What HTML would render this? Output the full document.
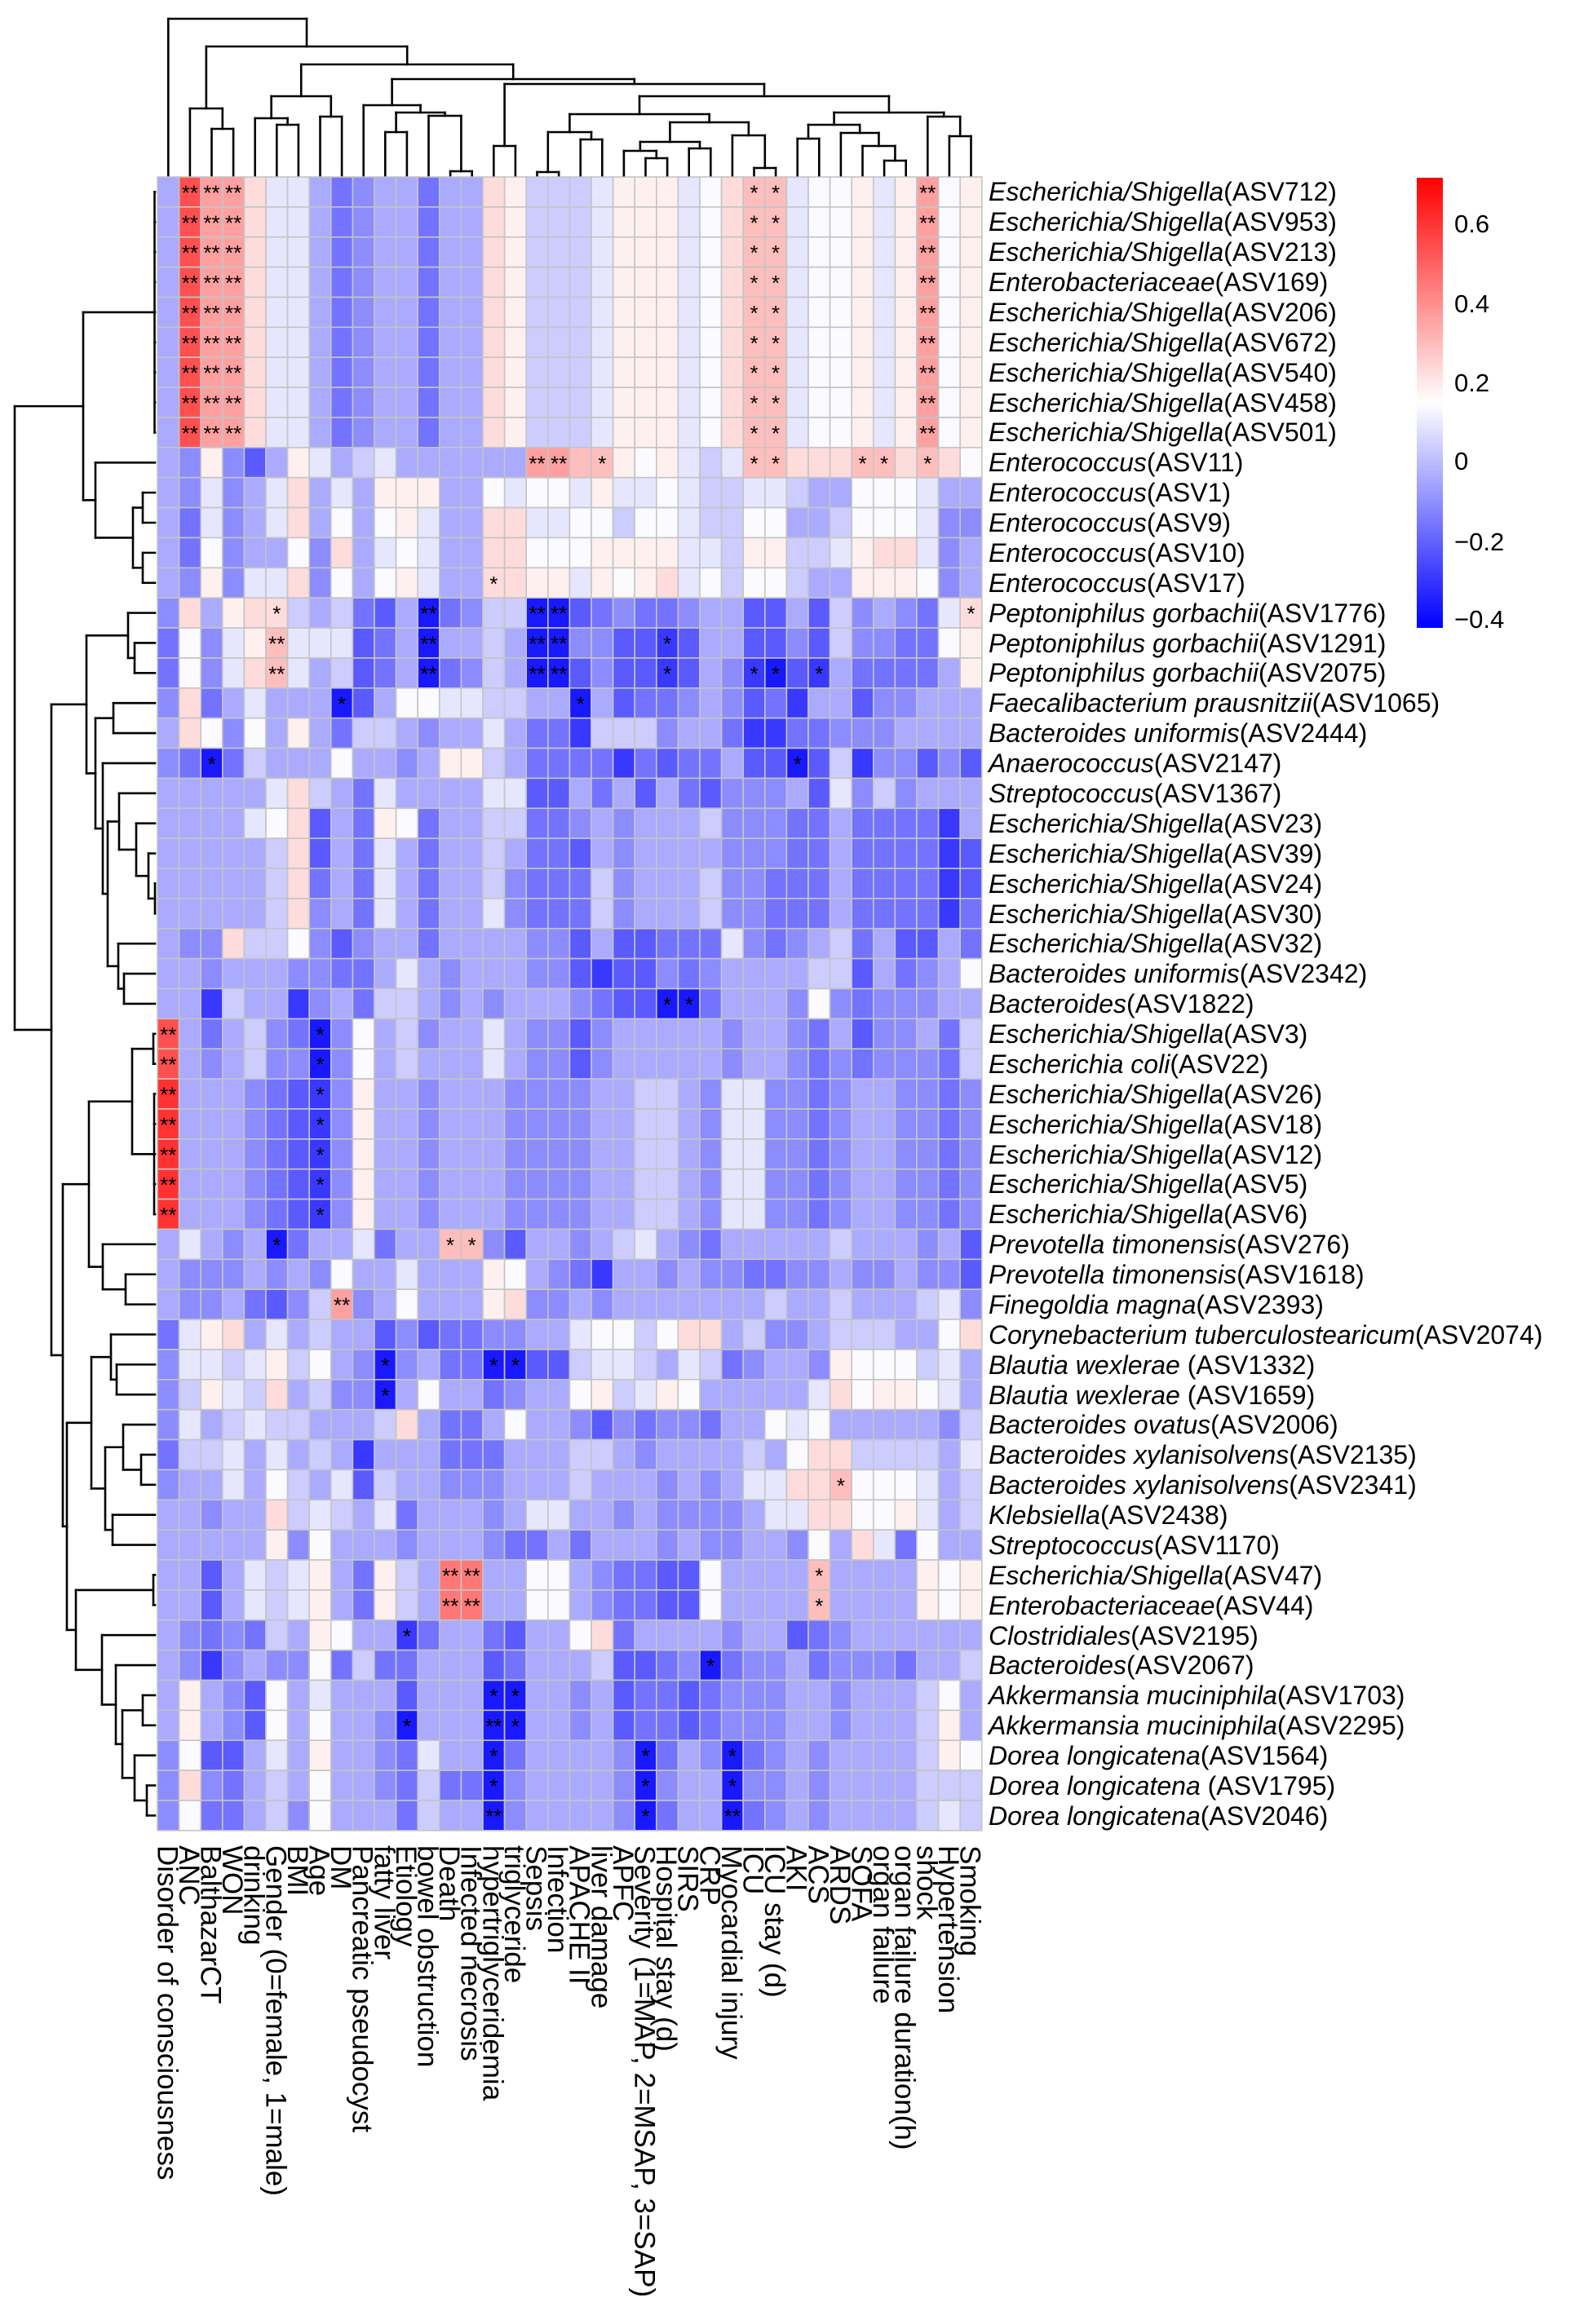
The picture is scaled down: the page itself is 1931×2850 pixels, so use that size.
<!DOCTYPE html>
<html><head><meta charset="utf-8"><style>
html,body{margin:0;padding:0;background:#fff;}
svg{display:block;}
.rl{font-family:"Liberation Sans",Arial,sans-serif;font-size:32px;fill:#000;}
.rl tspan.i{font-style:italic;}
.cl{font-family:"Liberation Sans",Arial,sans-serif;font-size:35px;fill:#000;}
.lg{font-family:"Liberation Sans",Arial,sans-serif;font-size:31px;fill:#000;}
.st{font-family:"Liberation Sans",Arial,sans-serif;font-size:26px;fill:#000;}
</style></head><body>
<svg id="s" width="1931" height="2850" viewBox="0 0 1931 2850" xmlns="http://www.w3.org/2000/svg">
<defs><linearGradient id="lgd" x1="0" y1="1" x2="0" y2="0">
<stop offset="0" stop-color="#0000ff"/><stop offset="0.5" stop-color="#ffffff"/><stop offset="1" stop-color="#ff0000"/></linearGradient></defs>
<g id="cells"></g><g id="dend" stroke="#000" stroke-width="2.6" fill="none" stroke-linecap="square"></g>
<rect x="1737" y="218" width="32" height="552" fill="url(#lgd)"/>
<text class="lg" x="1783" y="285">0.6</text>
<text class="lg" x="1783" y="383">0.4</text>
<text class="lg" x="1783" y="480">0.2</text>
<text class="lg" x="1783" y="576">0</text>
<text class="lg" x="1783" y="675">−0.2</text>
<text class="lg" x="1783" y="770">−0.4</text>
<g class="rl">
<text x="1212" y="246"><tspan class="i">Escherichia/Shigella</tspan>(ASV712)</text>
<text x="1212" y="283"><tspan class="i">Escherichia/Shigella</tspan>(ASV953)</text>
<text x="1212" y="320"><tspan class="i">Escherichia/Shigella</tspan>(ASV213)</text>
<text x="1212" y="357"><tspan class="i">Enterobacteriaceae</tspan>(ASV169)</text>
<text x="1212" y="394"><tspan class="i">Escherichia/Shigella</tspan>(ASV206)</text>
<text x="1212" y="431"><tspan class="i">Escherichia/Shigella</tspan>(ASV672)</text>
<text x="1212" y="468"><tspan class="i">Escherichia/Shigella</tspan>(ASV540)</text>
<text x="1212" y="505"><tspan class="i">Escherichia/Shigella</tspan>(ASV458)</text>
<text x="1212" y="541"><tspan class="i">Escherichia/Shigella</tspan>(ASV501)</text>
<text x="1212" y="578"><tspan class="i">Enterococcus</tspan>(ASV11)</text>
<text x="1212" y="615"><tspan class="i">Enterococcus</tspan>(ASV1)</text>
<text x="1212" y="652"><tspan class="i">Enterococcus</tspan>(ASV9)</text>
<text x="1212" y="689"><tspan class="i">Enterococcus</tspan>(ASV10)</text>
<text x="1212" y="726"><tspan class="i">Enterococcus</tspan>(ASV17)</text>
<text x="1212" y="763"><tspan class="i">Peptoniphilus gorbachii</tspan>(ASV1776)</text>
<text x="1212" y="800"><tspan class="i">Peptoniphilus gorbachii</tspan>(ASV1291)</text>
<text x="1212" y="836"><tspan class="i">Peptoniphilus gorbachii</tspan>(ASV2075)</text>
<text x="1212" y="873"><tspan class="i">Faecalibacterium prausnitzii</tspan>(ASV1065)</text>
<text x="1212" y="910"><tspan class="i">Bacteroides uniformis</tspan>(ASV2444)</text>
<text x="1212" y="947"><tspan class="i">Anaerococcus</tspan>(ASV2147)</text>
<text x="1212" y="984"><tspan class="i">Streptococcus</tspan>(ASV1367)</text>
<text x="1212" y="1021"><tspan class="i">Escherichia/Shigella</tspan>(ASV23)</text>
<text x="1212" y="1058"><tspan class="i">Escherichia/Shigella</tspan>(ASV39)</text>
<text x="1212" y="1095"><tspan class="i">Escherichia/Shigella</tspan>(ASV24)</text>
<text x="1212" y="1132"><tspan class="i">Escherichia/Shigella</tspan>(ASV30)</text>
<text x="1212" y="1168"><tspan class="i">Escherichia/Shigella</tspan>(ASV32)</text>
<text x="1212" y="1205"><tspan class="i">Bacteroides uniformis</tspan>(ASV2342)</text>
<text x="1212" y="1242"><tspan class="i">Bacteroides</tspan>(ASV1822)</text>
<text x="1212" y="1279"><tspan class="i">Escherichia/Shigella</tspan>(ASV3)</text>
<text x="1212" y="1316"><tspan class="i">Escherichia coli</tspan>(ASV22)</text>
<text x="1212" y="1353"><tspan class="i">Escherichia/Shigella</tspan>(ASV26)</text>
<text x="1212" y="1390"><tspan class="i">Escherichia/Shigella</tspan>(ASV18)</text>
<text x="1212" y="1427"><tspan class="i">Escherichia/Shigella</tspan>(ASV12)</text>
<text x="1212" y="1463"><tspan class="i">Escherichia/Shigella</tspan>(ASV5)</text>
<text x="1212" y="1500"><tspan class="i">Escherichia/Shigella</tspan>(ASV6)</text>
<text x="1212" y="1537"><tspan class="i">Prevotella timonensis</tspan>(ASV276)</text>
<text x="1212" y="1574"><tspan class="i">Prevotella timonensis</tspan>(ASV1618)</text>
<text x="1212" y="1611"><tspan class="i">Finegoldia magna</tspan>(ASV2393)</text>
<text x="1212" y="1648"><tspan class="i">Corynebacterium tuberculostearicum</tspan>(ASV2074)</text>
<text x="1212" y="1685"><tspan class="i">Blautia wexlerae</tspan> (ASV1332)</text>
<text x="1212" y="1722"><tspan class="i">Blautia wexlerae</tspan> (ASV1659)</text>
<text x="1212" y="1758"><tspan class="i">Bacteroides ovatus</tspan>(ASV2006)</text>
<text x="1212" y="1795"><tspan class="i">Bacteroides xylanisolvens</tspan>(ASV2135)</text>
<text x="1212" y="1832"><tspan class="i">Bacteroides xylanisolvens</tspan>(ASV2341)</text>
<text x="1212" y="1869"><tspan class="i">Klebsiella</tspan>(ASV2438)</text>
<text x="1212" y="1906"><tspan class="i">Streptococcus</tspan>(ASV1170)</text>
<text x="1212" y="1943"><tspan class="i">Escherichia/Shigella</tspan>(ASV47)</text>
<text x="1212" y="1980"><tspan class="i">Enterobacteriaceae</tspan>(ASV44)</text>
<text x="1212" y="2017"><tspan class="i">Clostridiales</tspan>(ASV2195)</text>
<text x="1212" y="2053"><tspan class="i">Bacteroides</tspan>(ASV2067)</text>
<text x="1212" y="2090"><tspan class="i">Akkermansia muciniphila</tspan>(ASV1703)</text>
<text x="1212" y="2127"><tspan class="i">Akkermansia muciniphila</tspan>(ASV2295)</text>
<text x="1212" y="2164"><tspan class="i">Dorea longicatena</tspan>(ASV1564)</text>
<text x="1212" y="2201"><tspan class="i">Dorea longicatena</tspan> (ASV1795)</text>
<text x="1212" y="2238"><tspan class="i">Dorea longicatena</tspan>(ASV2046)</text>
</g>
<g class="cl">
<text transform="translate(193.3,2263) rotate(90)">Disorder of consciousness</text>
<text transform="translate(219.9,2263) rotate(90)">ANC</text>
<text transform="translate(246.5,2263) rotate(90)">BalthazarCT</text>
<text transform="translate(273.1,2263) rotate(90)">WON</text>
<text transform="translate(299.7,2263) rotate(90)">drinking</text>
<text transform="translate(326.3,2263) rotate(90)">Gender (0=female, 1=male)</text>
<text transform="translate(352.9,2263) rotate(90)">BMI</text>
<text transform="translate(379.5,2263) rotate(90)">Age</text>
<text transform="translate(406.1,2263) rotate(90)">DM</text>
<text transform="translate(432.7,2263) rotate(90)">Pancreatic pseudocyst</text>
<text transform="translate(459.3,2263) rotate(90)">fatty liver</text>
<text transform="translate(485.9,2263) rotate(90)">Etiology</text>
<text transform="translate(512.5,2263) rotate(90)">bowel obstruction</text>
<text transform="translate(539.1,2263) rotate(90)">Death</text>
<text transform="translate(565.7,2263) rotate(90)">Infected necrosis</text>
<text transform="translate(592.3,2263) rotate(90)">hypertriglyceridemia</text>
<text transform="translate(618.9,2263) rotate(90)">triglyceride</text>
<text transform="translate(645.5,2263) rotate(90)">Sepsis</text>
<text transform="translate(672.1,2263) rotate(90)">Infection</text>
<text transform="translate(698.7,2263) rotate(90)">APACHE II</text>
<text transform="translate(725.3,2263) rotate(90)">liver damage</text>
<text transform="translate(751.9,2263) rotate(90)">APFC</text>
<text transform="translate(778.5,2263) rotate(90)">Severity (1=MAP, 2=MSAP, 3=SAP)</text>
<text transform="translate(805.1,2263) rotate(90)">Hospital stay (d)</text>
<text transform="translate(831.7,2263) rotate(90)">SIRS</text>
<text transform="translate(858.3,2263) rotate(90)">CRP</text>
<text transform="translate(884.9,2263) rotate(90)">Myocardial injury</text>
<text transform="translate(911.5,2263) rotate(90)">ICU</text>
<text transform="translate(938.1,2263) rotate(90)">ICU stay (d)</text>
<text transform="translate(964.7,2263) rotate(90)">AKI</text>
<text transform="translate(991.3,2263) rotate(90)">ACS</text>
<text transform="translate(1017.9,2263) rotate(90)">ARDS</text>
<text transform="translate(1044.5,2263) rotate(90)">SOFA</text>
<text transform="translate(1071.1,2263) rotate(90)">organ failure</text>
<text transform="translate(1097.7,2263) rotate(90)">organ failure duration(h)</text>
<text transform="translate(1124.3,2263) rotate(90)">shock</text>
<text transform="translate(1150.9,2263) rotate(90)">Hypertension</text>
<text transform="translate(1177.5,2263) rotate(90)">Smoking</text>
</g>
</svg>
<script>
(function(){
var NS="http://www.w3.org/2000/svg";
var X0=193,Y0=217,CW=26.6,RH=36.87;
var col={a:"#e6e6ff",b:"#ccccff",c:"#aaaaff",d:"#8c8cff",e:"#7373ff",f:"#5a5aff",g:"#3838ff",h:"#1919ff",
"0":"#fafaff","1":"#fff0f0","2":"#ffdcdc","3":"#ffbebe","4":"#ffa0a0","5":"#ff7878","6":"#ff5050","7":"#ff3232"};
var r1="c 6** 4** 4** 2 a a c e d c c e c c 2 1 b b b a 1 1 1 a 0 2 3* 3* a 0 0 1 a 1 4** 0 1";
var r31="7** c c c d e f g* d 1 c c d c c c d d d d c c b b c d a a d d e d c c d d e d";
var r47="c c f c a b a 1 c e 1 b c 5** 5** c c 0 0 c d e e f f 0 c c c c 3* c c c c 1 0 1";
var R=[r1,r1,r1,r1,r1,r1,r1,r1,r1,
"c d 1 d f c 1 a c b a c c c c c c 4** 4** 3 3* 1 0 1 a b a 3* 3* 2 2 2 3* 3* 2 3* 2 0",
"c d a d c a 2 c a c 1 1 1 c c 0 a 0 0 a 1 a a 0 a b b a a b c c 0 0 0 a c c",
"c e a d c a 2 c 0 c 0 1 a c c 2 2 a a 0 0 b 0 0 a b b 0 0 c c b 0 0 0 a d d",
"c e 0 d c c 0 d 2 c a 0 a c c 2 2 0 0 0 1 1 1 1 a a b 1 1 b b a 1 2 2 a d c",
"c d 1 d a a 2 d 0 c 0 1 a c c 2* 2 1 1 a 1 0 1 2 a 0 b 0 0 b c c 1 1 1 0 d c",
"d 2 c 1 2 2* b c b e f c h** e d b b h** h** f e d e e d c c f f c f b d c d e a 2*",
"e 0 d a 1 3** a a a f e c h** c c b c h** h** d d f f g* f c c f f d f b d d e e 0 1",
"e 0 d a 2 3** a c b f e c h** e d b c h** h** f d f f g* f c d g* h* f g* c e e e e c 1",
"d 2 e c a c c c h* f c 0 0 a a b b c c h* c f e e d c d f e g c c f d d c c c",
"c 2 0 d 0 c 1 c e b b c d c c a c e e g b b b d c c e g g e e d d d c c c c",
"d e h* e b c c c 0 c c d c 1 1 b c e e e e g e f e e c f f h* f b g d d f d f",
"c c c c c a 2 b c e a c c c c a a f f c e c f c e f d d d c f a d b d c c c",
"c c c c a 0 2 f c e 1 0 e c c b b e e d c d c c c b d d d e e c e e e e g c",
"c c c c c b 2 f c e a c e c c b c e e f c d c c c c d d d e e c e e e e g f",
"c c c c c b 2 e c e a c e c c b d e e e b d c c c b d d e e e c e e e e g f",
"c c c c c b 2 d c e a c e c c a d e e e b d c c c b d d e e e c e e e e g e",
"c d d 2 b b 0 d f d c c e c c c c d d f c f f e e e a d e d c b e c f f c e",
"c c d c c c d d e e c a c d c c c d d f g f f d e d c c c c b b f c e d c 0",
"c c g b c c g d c e b b c d c d c c c d e f f h* h* e c c c d 0 d e d d d c c",
"6** c e c b d e h* d 0 c b d c c a c d d f d c c c c c d c c d e c f d d c e b",
"6** c d c b d d h* d 0 c b c c c a c d d f d c c c c c d c c d e d e d d d e b",
r31,r31,r31,r31,r31,
"c a c d c h* e c c a e c c 3* 3* d f c c d c b a c d e c c c c c b c c c d c f",
"c d d d c d c d 0 c c a c c c 1 0 c d e g c c d c d d e e d d c d d c d d f",
"c d d c e f d b 4** d c 0 c c c 1 2 d d c d c c c c c c c b c c b c c c b a d",
"e a 1 2 c a c b c c f d f e e d d c c a 0 0 b 0 2 2 c b d d c b b b c c 0 2",
"d a a b a 1 b 0 c d h* d c e e h* h* f f b a a b c a b e d c c d 1 0 0 0 b a c",
"d b 1 a b 2 c b d d h* c 0 c c e d c c 0 1 b a 1 0 c c c c c a 2 0 1 1 0 a c",
"d a c b a b b c c c b 2 c e e c 0 c c d f d e d d e c c 0 a 0 c c c c c d b",
"e b b a c a c b c g c c c e e e c c c b b c d c c c c b c 0 2 2 b b b b c a",
"d c c a c 0 b c a f b c c d d d c c c b c c c d c d c a a 2 2 3* 0 0 0 a c b",
"c c d c c 2 b a b c a e c c c d c a a c c d c d d d d c a a 2 2 0 0 1 a c b",
"c c c c c 1 d 0 c c c d c c c d e e c e c c c d c d d c c d 0 c 2 a e 0 c c",
r47,r47,
"c d e d e b c 1 0 c c g* e c c e f c c 0 2 e c c c c d c c f e d c c c c c c",
"c d g d c d d 0 e b e e c c c f e c c c b f f e d h* e d d c e d d d e c c b",
"c 1 c d f 0 c a c c c f c c c h* h* c c d c f e e f e d d d c c d c c c b 0 c",
"c 1 c d f 0 c 0 c c d h* c c c h** h* c c d c f e e f e d d d c c d c c c b 1 c",
"d 0 f f c a c 1 c c d e a c c h* e c c c c d h* e c d h* e d c d c c c c b 1 0",
"d 2 d e c b c 0 c c d e b e e h* d c c c c d h* d c c h* d d c d c c c c b b b",
"d 0 e e c b d 0 c c c e b c c h** d c c c c d h* e c c h** e d c d c c c c b a b"];
var g=document.getElementById("cells");
function el(n,a){var e=document.createElementNS(NS,n);for(var k in a)e.setAttribute(k,a[k]);return e;}
for(var r=0;r<R.length;r++){var t=R[r].split(" ");
 for(var c=0;c<38;c++){var tok=t[c]||"c";var k=tok[0];var s=tok.slice(1);
  var x=X0+c*CW,y=Y0+r*RH;
  g.appendChild(el("rect",{x:x.toFixed(2),y:y.toFixed(2),width:CW.toFixed(2),height:RH.toFixed(2),fill:col[k]||"#aaaaff",stroke:"#c4c4c4","stroke-width":"1.6"}));
  if(s){var tx=el("text",{x:(x+CW/2).toFixed(2),y:(y+28.5).toFixed(2),"text-anchor":"middle","class":"st"});tx.textContent=s;g.appendChild(tx);}
 }}
var d=document.getElementById("dend");
function line(x1,y1,x2,y2){d.appendChild(el("line",{x1:x1,y1:y1,x2:x2,y2:y2}));}
// top dendrogram: node {h:y, c:[...]} leaves = column numbers
function N(h){return {h:h,c:Array.prototype.slice.call(arguments,1)};}
function cx(k){return X0+CW*(k-0.5);}
function drawTop(n){ if(typeof n==="number") return {p:cx(n),h:215};
 var ch=n.c.map(drawTop);var ps=ch.map(function(o){return o.p;});
 var mn=Math.min.apply(null,ps),mx=Math.max.apply(null,ps);
 line(mn,n.h,mx,n.h);ch.forEach(function(o){line(o.p,n.h,o.p,o.h);});
 return {p:(mn+mx)/2,h:n.h};}
var top=N(23,1,N(57,N(133,2,N(158,3,4)),N(79,N(118,N(145,5,N(153,6,7)),N(143,8,9)),
 N(97,N(129,10,N(138,N(162,11,12),N(142,13,N(210,14,15)))),
  N(103,N(179,16,17),N(118,N(140,N(162,N(211,18,19),N(171,20,21)),
   N(150,N(174,N(185,22,N(194,23,24)),N(182,25,26)),N(166,27,N(206,28,29)))),
   N(138,N(153,N(170,30,31),N(163,32,N(179,33,N(197,34,35)))),N(143,36,N(167,37,38)))))))));
drawTop(top);
function cy(r){return Y0+RH*(r-0.5);}
function drawLeft(n){ if(typeof n==="number") return {p:cy(n),h:190};
 var ch=n.c.map(drawLeft);var ps=ch.map(function(o){return o.p;});
 var mn=Math.min.apply(null,ps),mx=Math.max.apply(null,ps);
 line(n.h,mn,n.h,mx);ch.forEach(function(o){line(n.h,o.p,o.h,o.p);});
 return {p:(mn+mx)/2,h:n.h};}
var left=N(18,
 N(102,N(189,N(189.5,1,2,3,4,5,6,7,8,9)),N(117,10,N(163,N(175,11,12),N(175,13,14)))),
 N(63,
  N(106,N(157,15,N(165,16,17)),N(117,N(139,18,19),N(126,20,N(132,N(146,21,N(167,22,N(182,23,N(190,24,25)))),N(145,26,N(152,27,28)))))),
  N(77,
   N(109,N(162,N(188,29,30),N(189,31,32,33,34,35)),N(126,36,N(154,37,38))),
   N(82,N(112,N(136,39,N(143,40,41)),N(129,N(151,42,N(173,43,44)),N(138,45,46))),
    N(93,N(188,47,48),N(125,49,N(142,50,N(150,N(175,51,52),N(165,53,N(180,54,55))))))))));
drawLeft(left);
})();
</script>
</body></html>
